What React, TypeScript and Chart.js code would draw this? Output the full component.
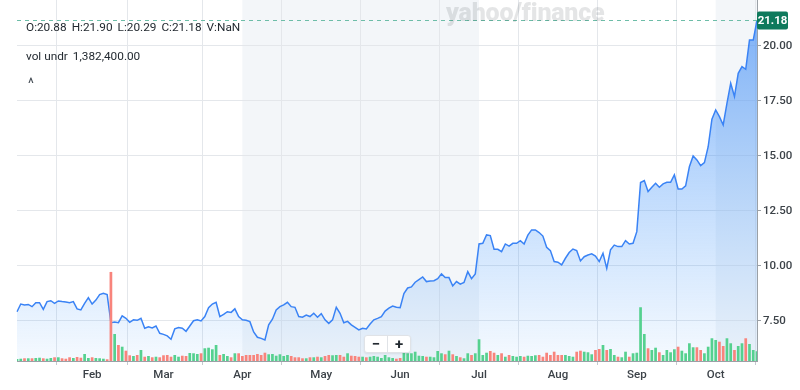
import React, { useEffect, useRef } from 'react';
import { Chart, registerables } from 'chart.js';

Chart.register(...registerables);

// ---------- data ----------
const months = ['Jan', 'Feb', 'Mar', 'Apr', 'May', 'Jun', 'Jul', 'Aug', 'Sep', 'Oct'];
const tradingDaysPerMonth = [20, 19, 21, 21, 21, 21, 21, 21, 21, 12];

const closePrices = [
  7.92, 8.27, 8.23, 8.25, 8.15, 8.33, 8.33, 8.03, 8.38, 8.42,
  8.30, 8.41, 8.38, 8.36, 8.33, 8.38, 8.05, 8.00, 8.30, 8.56,
  8.27, 8.45, 8.70, 8.76, 8.70, 7.42, 7.45, 7.42, 7.73, 7.62,
  7.44, 7.55, 7.53, 7.62, 7.17, 7.24, 7.18, 7.27, 6.94, 6.89,
  6.82, 6.67, 7.14, 7.20, 7.17, 7.03, 7.27, 7.51, 7.55, 7.50,
  7.70, 8.10, 8.27, 8.35, 7.70, 7.80, 7.92, 7.89, 8.05, 7.70,
  7.55, 7.53, 7.47, 7.00, 6.76, 6.71, 6.64, 7.32, 7.58, 8.00,
  8.15, 8.23, 8.35, 8.15, 8.12, 7.70, 7.67, 7.77, 7.70, 7.85,
  7.67, 7.83, 7.55, 7.39, 7.55, 8.12, 7.85, 7.42, 7.48, 7.32,
  7.21, 7.09, 7.17, 7.14, 7.36, 7.55, 7.62, 7.70, 7.95, 8.08,
  8.18, 8.12, 8.10, 8.75, 9.00, 9.05, 9.26, 9.38, 9.50, 9.29,
  9.32, 9.33, 9.42, 9.64, 9.47, 9.47, 9.09, 9.29, 9.17, 9.25,
  9.74, 9.42, 9.64, 11.00, 11.03, 11.41, 11.38, 10.76, 10.76, 10.65,
  11.00, 10.90, 11.03, 11.03, 11.15, 11.00, 11.40, 11.64, 11.64, 11.52,
  11.36, 10.85, 10.70, 10.20, 10.17, 10.05, 10.35, 10.61, 10.77, 10.70,
  10.23, 10.42, 10.50, 10.55, 10.45, 10.20, 10.58, 9.89, 10.73, 10.95,
  10.88, 10.88, 11.15, 11.00, 11.03, 11.56, 13.79, 13.88, 13.38, 13.58,
  13.76, 13.58, 13.73, 13.80, 13.80, 14.14, 13.50, 13.50, 13.64, 14.51,
  15.00, 14.82, 14.56, 14.70, 15.42, 16.67, 17.09, 16.79, 16.41, 17.39,
  18.30, 17.70, 18.76, 19.06, 18.94, 20.27, 20.27, 21.18,
];

// volume in millions
const volumesM = [
  0.28, 0.32, 0.38, 0.38, 0.38, 0.42, 0.46, 0.38, 0.32, 0.42,
  0.52, 0.52, 0.38, 0.32, 0.52, 0.42, 0.56, 0.46, 0.98, 0.42,
  0.52, 0.42, 0.38, 0.32, 0.24, 12.46, 3.78, 2.24, 2.00, 1.44,
  0.80, 0.70, 0.84, 1.54, 0.60, 0.70, 0.52, 0.60, 0.52, 0.80,
  0.84, 0.60, 0.84, 0.60, 0.74, 0.70, 1.12, 1.08, 0.98, 1.08,
  1.78, 1.86, 1.64, 2.24, 0.84, 0.98, 0.70, 0.52, 1.08, 1.08,
  0.70, 0.84, 0.84, 0.84, 0.98, 0.84, 1.16, 0.94, 0.98, 0.74,
  0.94, 0.70, 0.84, 0.70, 0.52, 0.52, 0.38, 0.38, 0.52, 0.52,
  0.60, 0.52, 0.70, 0.84, 0.80, 0.84, 0.84, 0.60, 1.08, 0.74,
  0.70, 0.60, 0.60, 0.52, 0.60, 0.70, 0.60, 0.42, 0.84, 0.52,
  0.42, 0.32, 0.42, 1.16, 1.08, 1.08, 1.30, 0.74, 0.70, 0.60,
  0.60, 0.52, 1.40, 1.08, 0.94, 1.44, 0.94, 0.70, 0.52, 0.38,
  1.08, 0.84, 1.08, 3.04, 0.84, 1.16, 1.40, 1.16, 0.84, 1.08,
  0.60, 0.84, 0.70, 0.60, 0.70, 0.60, 0.74, 0.70, 0.80, 0.84,
  0.60, 1.16, 0.84, 1.30, 0.84, 0.84, 0.84, 0.70, 0.60, 1.30,
  1.44, 1.30, 1.22, 0.94, 1.54, 1.68, 2.24, 1.54, 1.68, 0.84,
  0.60, 0.52, 1.30, 0.60, 1.08, 1.16, 7.52, 3.78, 1.78, 1.54,
  1.86, 1.22, 0.84, 1.54, 1.22, 1.64, 2.00, 1.44, 1.08, 2.48,
  1.92, 1.92, 1.54, 1.08, 2.00, 3.18, 2.94, 2.70, 2.10, 3.18,
  2.48, 1.54, 2.10, 2.48, 3.18, 2.38, 1.54, 1.38,
];

const priceTicks = [7.5, 10, 12.5, 15, 17.5, 20];
const lastClose = 21.18;
const ohlcLabels = ['O', 'H', 'L', 'C', 'V'];
const ohlcValues = ['20.88', '21.90', '20.29', '21.18', 'NaN'];
const volUnderLabel = 'vol undr';
const volUnderValue = '1,382,400.00';
const shadedQuarterStarts = ['Apr', 'Oct'];
const shadedQuarterEnds = ['Jul', null];

// ---------- derived ----------
const dayLabels: string[] = [];
const monthStartIdx: number[] = [];
const monthOfIdx: string[] = [];
months.forEach((m, k) => {
  monthStartIdx.push(dayLabels.length);
  for (let d = 1; d <= tradingDaysPerMonth[k]; d++) {
    dayLabels.push(`${m} ${d}`);
    monthOfIdx.push(m);
  }
});
const xTickIdx = monthStartIdx.slice(1);

const GREEN = '#55d18f';
const RED = '#f8847c';
const barColors = volumesM.map((_, i) =>
  i === 0 || closePrices[i] >= closePrices[i - 1] ? GREEN : RED
);

const FONT = 'Roboto, "Noto Sans", sans-serif';

const bandPlugin = {
  id: 'quarterBands',
  beforeDraw(chart: any) {
    const { ctx, chartArea, scales } = chart;
    if (!chartArea) return;
    ctx.save();
    ctx.fillStyle = '#f3f6f9';
    shadedQuarterStarts.forEach((m, k) => {
      const s = monthStartIdx[months.indexOf(m)];
      const endM = shadedQuarterEnds[k];
      const x0 = scales.x.getPixelForValue(s);
      const x1 = endM ? scales.x.getPixelForValue(monthStartIdx[months.indexOf(endM)]) : chartArea.right;
      ctx.fillRect(x0, chartArea.top, x1 - x0, chartArea.bottom - chartArea.top);
    });
    ctx.restore();
  },
};

const lastPricePlugin = {
  id: 'lastPrice',
  afterDraw(chart: any) {
    const { ctx, chartArea, scales } = chart;
    const y = Math.round(scales.y.getPixelForValue(lastClose)) + 0.5;
    ctx.save();
    ctx.strokeStyle = '#6dbda8';
    ctx.lineWidth = 1;
    ctx.setLineDash([4, 4]);
    ctx.beginPath();
    ctx.moveTo(chartArea.left, y);
    ctx.lineTo(chartArea.right, y);
    ctx.stroke();
    ctx.setLineDash([]);
    const bx = chartArea.right;
    const bw = 31;
    const bh = 18;
    ctx.fillStyle = '#0e7a5c';
    ctx.beginPath();
    (ctx as any).roundRect(bx, y - bh / 2, bw, bh, 2);
    ctx.fill();
    ctx.fillStyle = '#ffffff';
    ctx.font = `bold 11.5px ${FONT}`;
    ctx.textAlign = 'center';
    ctx.textBaseline = 'middle';
    ctx.fillText(lastClose.toFixed(2), bx + bw / 2, y + 0.5);
    ctx.restore();
  },
};

export default function App() {
  const canvasRef = useRef<HTMLCanvasElement | null>(null);

  useEffect(() => {
    const canvas = canvasRef.current;
    if (!canvas) return;
    const chart = new Chart(canvas, {
      type: 'line',
      data: {
        labels: dayLabels,
        datasets: [
          {
            type: 'line',
            data: closePrices,
            yAxisID: 'y',
            borderColor: '#3a83f5',
            borderWidth: 1.5,
            pointRadius: 0,
            tension: 0,
            fill: 'start',
            order: 2,
            backgroundColor: (c: any) => {
              const { chart: ch } = c;
              const area = ch.chartArea;
              if (!area) return 'rgba(40,125,245,0.2)';
              const g = ch.ctx.createLinearGradient(0, area.top, 0, area.bottom);
              g.addColorStop(0, 'rgba(40,125,245,0.6)');
              g.addColorStop(1, 'rgba(60,150,250,0.05)');
              return g;
            },
          } as any,
          {
            type: 'bar',
            data: volumesM,
            yAxisID: 'yv',
            backgroundColor: barColors,
            barPercentage: 0.72,
            categoryPercentage: 1,
            order: 1,
          } as any,
        ],
      },
      options: {
        animation: false,
        responsive: false,
        devicePixelRatio: 1,
        layout: { padding: { left: 17, top: 0, right: 0, bottom: 0 } },
        plugins: { legend: { display: false }, tooltip: { enabled: false } },
        scales: {
          x: {
            type: 'category',
            offset: false,
            grid: { color: '#e4e7eb', tickLength: 4, tickColor: '#c5c9ce' },
            border: { color: '#9aa0a6', width: 1 },
            ticks: {
              autoSkip: false,
              maxRotation: 0,
              padding: 3,
              color: '#3c4248',
              font: { family: FONT, size: 11.5, weight: '500' as any },
              callback: (v: any) => monthOfIdx[v as number],
            },
            afterBuildTicks: (s: any) => {
              s.ticks = xTickIdx.map((v) => ({ value: v }));
            },
            afterFit: (s: any) => {
              s.height = 29;
              s.paddingLeft = 0;
              s.paddingRight = 0;
            },
          } as any,
          y: {
            position: 'right',
            min: 5.68,
            max: 22.09,
            grid: { color: '#e4e7eb', tickLength: 4, tickColor: '#9aa0a6' },
            border: { color: '#9aa0a6', width: 1 },
            ticks: {
              padding: 2,
              color: '#3c4248',
              font: { family: FONT, size: 11.5, weight: '500' as any },
              callback: (v: any) => Number(v).toFixed(2),
            },
            afterBuildTicks: (s: any) => {
              s.ticks = priceTicks.map((v) => ({ value: v }));
            },
            afterFit: (s: any) => {
              s.width = 43;
              s.paddingTop = 0;
              s.paddingBottom = 0;
            },
          } as any,
          yv: { display: false, min: 0, max: 50.5 },
        },
      },
      plugins: [bandPlugin, lastPricePlugin],
    });
    return () => chart.destroy();
  }, []);

  return (
    <div
      style={{
        position: 'fixed',
        left: 0,
        top: 0,
        width: 800,
        height: 390,
        background: '#ffffff',
        fontFamily: FONT,
        overflow: 'hidden',
      }}
    >
      <canvas ref={canvasRef} width={800} height={390} style={{ position: 'absolute', left: 0, top: 0 }} />
      <div
        style={{
          position: 'absolute',
          left: 446,
          top: -2,
          fontSize: 25,
          fontWeight: 900,
          letterSpacing: -0.2,
          color: 'rgba(35,42,49,0.12)',
          lineHeight: '30px',
          whiteSpace: 'nowrap',
        }}
      >
        yahoo/finance
      </div>
      <div
        style={{
          position: 'absolute',
          left: 26,
          top: 20,
          fontSize: 11.8,
          lineHeight: '14px',
          color: '#232a31',
          whiteSpace: 'nowrap',
        }}
      >
        {ohlcLabels.map((l, i) => (
          <span key={l} style={{ marginRight: 5 }}>
            {l}:{ohlcValues[i]}
          </span>
        ))}
      </div>
      <div
        style={{
          position: 'absolute',
          left: 26,
          top: 49,
          fontSize: 11.8,
          lineHeight: '14px',
          color: '#232a31',
          whiteSpace: 'nowrap',
        }}
      >
        <span style={{ marginRight: 5 }}>{volUnderLabel}</span>
        <span>{volUnderValue}</span>
      </div>
      <div
        style={{
          position: 'absolute',
          left: 28,
          top: 76,
          fontSize: 14,
          lineHeight: '14px',
          color: '#464e56',
        }}
      >
        ^
      </div>
      <div
        style={{
          position: 'absolute',
          left: 364,
          top: 335,
          width: 47,
          height: 18,
          background: '#ffffff',
          border: '1px solid #e0e3e7',
          borderRadius: 3,
          boxShadow: '0 1px 2px rgba(0,0,0,0.08)',
          display: 'flex',
          alignItems: 'center',
          fontSize: 15,
          fontWeight: 700,
          color: '#232a31',
          boxSizing: 'border-box',
        }}
      >
        <span style={{ flex: 1, textAlign: 'center', lineHeight: '16px' }}>−</span>
        <span style={{ width: 1, height: 16, background: '#e0e3e7' }} />
        <span style={{ flex: 1, textAlign: 'center', lineHeight: '16px' }}>+</span>
      </div>
    </div>
  );
}
